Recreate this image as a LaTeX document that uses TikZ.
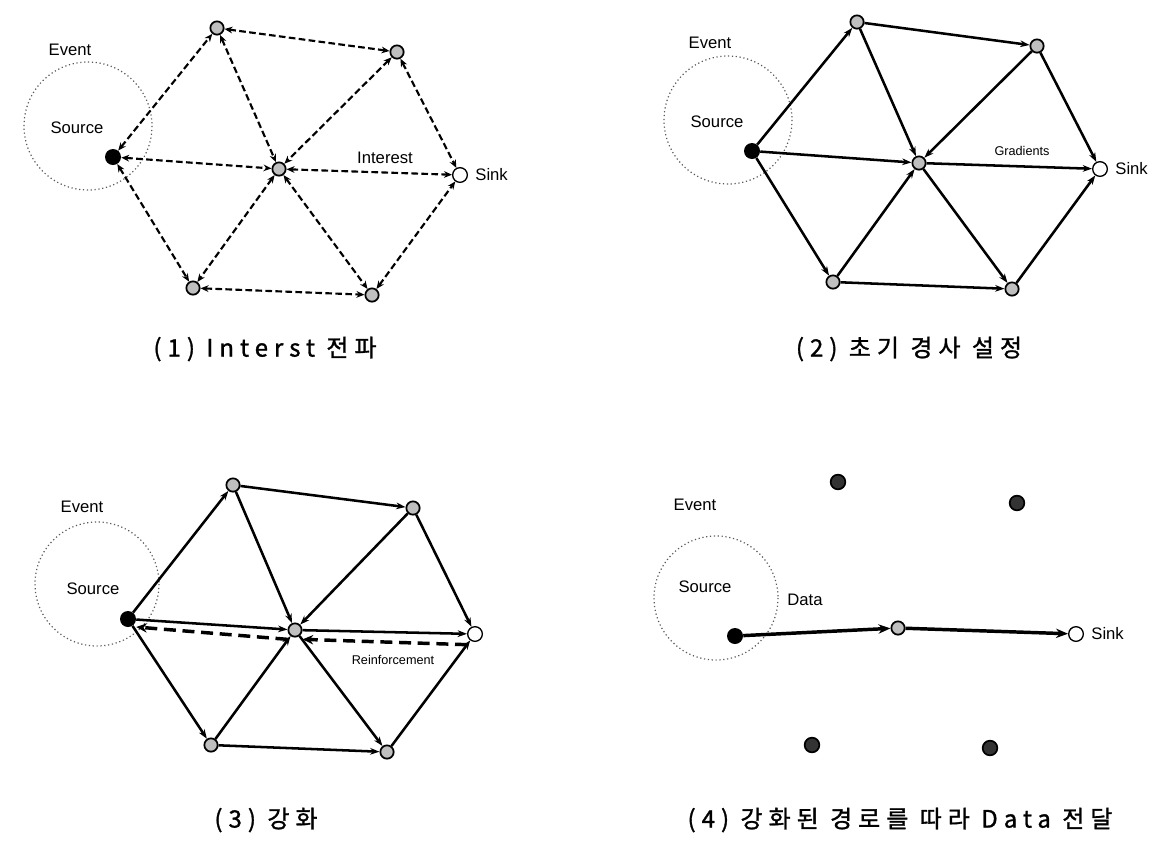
\documentclass[tikz,border=0pt]{standalone}
\usepackage{fontspec}
\setmainfont{Liberation Sans}
\newfontfamily\kr[LetterSpace=25,FakeBold=1.2]{Noto Sans CJK KR}
\usetikzlibrary{arrows.meta}
\begin{document}
\begin{tikzpicture}[x=0.75pt,y=-0.75pt,
 nd/.style={circle,draw=black,line width=1.3pt,fill=gray!50,minimum size=10pt,inner sep=0pt},
 dk/.style={circle,draw=black,line width=1.3pt,fill=black!80,minimum size=11pt,inner sep=0pt},
 src/.style={circle,fill=black,minimum size=12pt,inner sep=0pt},
 snk/.style={circle,draw=black,line width=1pt,fill=white,minimum size=11pt,inner sep=0pt},
 ev/.style={draw=black!65,dotted,line width=0.9pt},
 lbl/.style={font=\fontsize{12.5}{14}\selectfont},
 slbl/.style={font=\fontsize{9.5}{11}\selectfont},
 captxt/.style={font=\kr\fontsize{18}{21}\selectfont},
 ie/.style={dash pattern=on 5pt off 2.5pt, line width=1.6pt, {Stealth[length=6pt,width=5pt]}-{Stealth[length=6pt,width=5pt]}},
 ge/.style={line width=1.9pt, -{Stealth[length=7pt,width=5pt]}},
 re/.style={dash pattern=on 9pt off 5pt, line width=2.6pt, -{Stealth[length=8pt,width=7pt]}},
 de/.style={line width=2.6pt, -{Stealth[length=9pt,width=7pt]}},
]
\useasboundingbox (0,0) rectangle (1160,854);

% ---------- panel 1 ----------
\draw[ev] (88,126) circle (64);
\node[lbl] (e1) at (70,50) {Event};
\node[lbl] (o1) at (77,128) {Source};
\node[src] (s1) at (113,157) {};
\node[nd] (t1) at (217,28) {};
\node[nd] (r1) at (397,52) {};
\node[nd] (c1) at (279,169) {};
\node[snk] (k1) at (460,175) {};
\node[nd] (l1) at (193,288) {};
\node[nd] (b1) at (372,295) {};
\node[lbl,anchor=west] (n1) at ([xshift=2pt]k1.east) {Sink};
\draw[ie] (s1) -- (t1);
\draw[ie] (s1) -- (c1);
\draw[ie] (s1) -- (l1);
\draw[ie] (t1) -- (r1);
\draw[ie] (t1) -- (c1);
\draw[ie] (r1) -- (c1);
\draw[ie] (r1) -- (k1);
\draw[ie] (c1) -- (k1);
\draw[ie] (c1) -- (l1);
\draw[ie] (c1) -- (b1);
\draw[ie] (l1) -- (b1);
\draw[ie] (b1) -- (k1);
\node[lbl] (i1) at (385,158) {Interest};
\node[captxt] (q1) at (265,349) {(1) Interst 전파};

% ---------- panel 2 ----------
\draw[ev] (728,120) circle (64);
\node[lbl] (e2) at (710,43) {Event};
\node[lbl] (o2) at (717,122) {Source};
\node[src] (s2) at (752,151) {};
\node[nd] (t2) at (857,22) {};
\node[nd] (r2) at (1037,46) {};
\node[nd] (c2) at (919,163) {};
\node[snk] (k2) at (1100,169) {};
\node[nd] (l2) at (833,282) {};
\node[nd] (b2) at (1012,289) {};
\node[lbl,anchor=west] (n2) at ([xshift=2pt]k2.east) {Sink};
\draw[ge] (s2) -- (t2);
\draw[ge] (s2) -- (c2);
\draw[ge] (s2) -- (l2);
\draw[ge] (t2) -- (r2);
\draw[ge] (t2) -- (c2);
\draw[ge] (r2) -- (c2);
\draw[ge] (r2) -- (k2);
\draw[ge] (c2) -- (k2);
\draw[ge] (l2) -- (c2);
\draw[ge] (c2) -- (b2);
\draw[ge] (l2) -- (b2);
\draw[ge] (b2) -- (k2);
\node[slbl] (g2) at (1022,151) {Gradients};
\node[captxt] (q2) at (909,349) {(2) 초기 경사 설정};

% ---------- panel 3 ----------
\draw[ev] (97,584) circle (62);
\node[lbl] (e3) at (82,507) {Event};
\node[lbl] (o3) at (93,589) {Source};
\node[src] (s3) at (128,619) {};
\node[nd] (t3) at (233,485) {};
\node[nd] (r3) at (413,508) {};
\node[nd] (c3) at (295,630) {};
\node[snk] (k3) at (475,634) {};
\node[nd] (l3) at (211,745) {};
\node[nd] (b3) at (387,752) {};
\draw[ge] (s3) -- (t3);
\draw[ge] (s3) -- (c3);
\draw[ge] (s3) -- (l3);
\draw[ge] (t3) -- (r3);
\draw[ge] (t3) -- (c3);
\draw[ge] (r3) -- (c3);
\draw[ge] (r3) -- (k3);
\draw[ge] (c3) -- (k3);
\draw[ge] (l3) -- (c3);
\draw[ge] (c3) -- (b3);
\draw[ge] (l3) -- (b3);
\draw[ge] (b3) -- (k3);
\draw[re] ([yshift=-8]k3.west) -- ([yshift=-7]c3.east);
\draw[re] ([yshift=-7]c3.west) -- ([yshift=-6]s3.east);
\node[slbl] (f3) at (393,660) {Reinforcement};
\node[captxt] (q3) at (266,820) {(3) 강화};

% ---------- panel 4 ----------
\draw[ev] (716,598) circle (62);
\node[lbl] (e4) at (695,505) {Event};
\node[lbl] (o4) at (705,587) {Source};
\node[src] (s4) at (735,636) {};
\node[dk] (t4) at (838,482) {};
\node[dk] (r4) at (1017,503) {};
\node[nd] (c4) at (898,628) {};
\node[snk] (k4) at (1076,634) {};
\node[dk] (l4) at (812,745) {};
\node[dk] (b4) at (990,748) {};
\node[lbl,anchor=west] (n4) at ([xshift=2pt]k4.east) {Sink};
\draw[de] (s4) -- (c4);
\draw[de] (c4) -- (k4);
\node[lbl] (d4) at (805,600) {Data};
\node[captxt] (q4) at (900,820) {(4) 강화된 경로를 따라 Data 전달};
\end{tikzpicture}
\end{document}
